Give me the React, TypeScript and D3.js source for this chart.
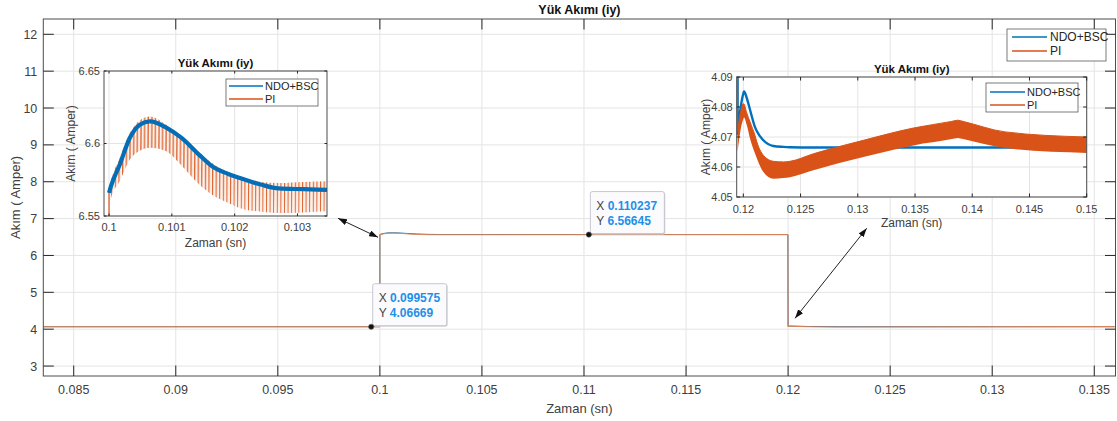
import React from 'react';
import * as d3 from 'd3';

const W = 1117;
const H = 421;
const FONT = "'Liberation Sans', Arial, Helvetica, sans-serif";
const BLUE = '#0072BD';
const ORANGE = '#D95319';
const INK = '#262626';
const GRID = '#e4e4e4';

const seriesNames = ['NDO+BSC', 'PI'];

// main plot, Yük Akımı (iy)
const mainTime = [0.0835, 0.09999, 0.1, 0.1, 0.1002, 0.1004, 0.1006, 0.1009, 0.1013, 0.1018, 0.1024, 0.103, 0.11999, 0.12, 0.12006, 0.1203, 0.121, 0.1225, 0.13, 0.136];
const mainBSC = [4.0667, 4.0667, 4.0667, 6.57, 6.598, 6.612, 6.615, 6.611, 6.598, 6.582, 6.572, 6.568, 6.5665, 4.072, 4.085, 4.083, 4.073, 4.0667, 4.0665, 4.0665];
const mainPI = [4.0667, 4.0667, 4.0667, 6.561, 6.59, 6.603, 6.607, 6.603, 6.588, 6.572, 6.563, 6.562, 6.5665, 4.069, 4.079, 4.076, 4.066, 4.059, 4.066, 4.07];
const mainXTicks = [0.085, 0.09, 0.095, 0.1, 0.105, 0.11, 0.115, 0.12, 0.125, 0.13, 0.135];
const mainXLabels = ['0.085', '0.09', '0.095', '0.1', '0.105', '0.11', '0.115', '0.12', '0.125', '0.13', '0.135'];
const mainYTicks = [3, 4, 5, 6, 7, 8, 9, 10, 11, 12];
const mainYLabels = ['3', '4', '5', '6', '7', '8', '9', '10', '11', '12'];

// data tips
const tipX = [0.099575, 0.110237];
const tipY = [4.06669, 6.56645];
const tipXText = ['0.099575', '0.110237'];
const tipYText = ['4.06669', '6.56645'];

// arrows (main axes coordinates)
const arrowFrom = [[0.09795, 7.008], [0.12385, 6.737]];
const arrowTo = [[0.09991, 6.493], [0.12034, 4.295]];

// inset 1 (step up at 0.1); first point is the foot of the step
const zoom1Time = [0.1, 0.1, 0.10003, 0.10017, 0.10033, 0.10049, 0.10065, 0.10091, 0.10115, 0.10144, 0.10164, 0.1019, 0.10217, 0.10243, 0.1027, 0.1031, 0.10347];
const zoom1BSC = [6.54, 6.566, 6.5705, 6.5854, 6.6038, 6.613, 6.6153, 6.611, 6.604, 6.592, 6.5843, 6.579, 6.575, 6.5715, 6.569, 6.5685, 6.568];
const zoom1PIHigh = [6.54, 6.568, 6.574, 6.59, 6.607, 6.616, 6.6187, 6.613, 6.605, 6.5935, 6.5865, 6.58, 6.575, 6.5735, 6.5728, 6.5735, 6.574];
const zoom1PILow = [6.54, 6.55, 6.562, 6.574, 6.5888, 6.595, 6.597, 6.5946, 6.585, 6.5716, 6.5647, 6.559, 6.5543, 6.553, 6.5521, 6.5525, 6.5532];
const zoom1XTicks = [0.1, 0.101, 0.102, 0.103];
const zoom1XLabels = ['0.1', '0.101', '0.102', '0.103'];
const zoom1YTicks = [6.55, 6.6, 6.65];
const zoom1YLabels = ['6.55', '6.6', '6.65'];

// inset 2 (step down at 0.12); first point is the top of the step
const zoom2Time = [0.11948, 0.1195, 0.1197, 0.12, 0.12006, 0.1203, 0.12059, 0.12102, 0.12117, 0.12175, 0.12262, 0.1235, 0.12408, 0.12612, 0.13049, 0.13486, 0.1382, 0.13874, 0.1392, 0.14287, 0.15];
const zoom2BSC = [6.5665, 4.071, 4.078, 4.0845, 4.0852, 4.083, 4.079, 4.0733, 4.072, 4.0689, 4.067, 4.0667, 4.0666, 4.0665, 4.0665, 4.0665, 4.0665, 4.0665, 4.0665, 4.0665, 4.0665];
const zoom2PIHigh = [6.5665, 4.072, 4.077, 4.0811, 4.081, 4.078, 4.075, 4.0705, 4.0685, 4.0639, 4.0619, 4.0617, 4.0619, 4.0644, 4.0689, 4.073, 4.0752, 4.0756, 4.0752, 4.0717, 4.07];
const zoom2PILow = [6.5665, 4.065, 4.071, 4.076, 4.0765, 4.074, 4.0694, 4.0645, 4.063, 4.0583, 4.0561, 4.0563, 4.0566, 4.0589, 4.0633, 4.0672, 4.0693, 4.0697, 4.0693, 4.0663, 4.0647];
const zoom2XTicks = [0.12, 0.125, 0.13, 0.135, 0.14, 0.145, 0.15];
const zoom2XLabels = ['0.12', '0.125', '0.13', '0.135', '0.14', '0.145', '0.15'];
const zoom2YTicks = [4.05, 4.06, 4.07, 4.08, 4.09];
const zoom2YLabels = ['4.05', '4.06', '4.07', '4.08', '4.09'];

type Box = [number, number, number, number];
type Scale = d3.ScaleLinear<number, number>;

type LegendSpec = { box: Box; x0: number; x1: number; tx: number; rows: number[]; font: number };

type PanelProps = {
  id: string;
  box: Box;
  xDomain: [number, number];
  yDomain: [number, number];
  xTicks: number[];
  xLabels: string[];
  yTicks: number[];
  yLabels: string[];
  font: number;
  labelFont: number;
  titleFont: number;
  tickLen: number;
  xTickBase: number;
  yTickGap: number;
  xLabelBase: number;
  yLabelBase: number;
  titleBase: number;
  legend: LegendSpec;
  plot: (x: Scale, y: Scale) => React.ReactNode;
  overlay?: (x: Scale, y: Scale) => React.ReactNode;
};

const lineOf = (x: Scale, y: Scale, t: number[], v: number[], curve: d3.CurveFactory = d3.curveLinear) =>
  d3.line<number>().curve(curve).x((_, i) => x(t[i])).y((d) => y(d))(v) || '';

const bandOf = (x: Scale, y: Scale, t: number[], lo: number[], hi: number[]) =>
  d3.area<number>().curve(d3.curveMonotoneX).x((_, i) => x(t[i])).y0((d) => y(d)).y1((_, i) => y(hi[i]))(lo) || '';

// step segment + smooth remainder
const stepThen = (x: Scale, y: Scale, t: number[], v: number[]) =>
  `M${x(t[0])},${y(v[0])}L${x(t[1])},${y(v[1])}` + lineOf(x, y, t.slice(1), v.slice(1), d3.curveMonotoneX).replace(/^M/, 'L');

function Legend({ spec }: { spec: LegendSpec }) {
  const [l, t, r, b] = spec.box;
  const colors = [BLUE, ORANGE];
  return (
    <g>
      <rect x={l} y={t} width={r - l} height={b - t} fill="#fff" stroke="#5a5a5a" strokeWidth={0.8} />
      {seriesNames.map((name, i) => (
        <g key={name}>
          <line x1={spec.x0} x2={spec.x1} y1={spec.rows[i]} y2={spec.rows[i]} stroke={colors[i]} strokeWidth={1.4} />
          <text x={spec.tx} y={spec.rows[i]} dy="0.36em" fontSize={spec.font} fill={INK}>{name}</text>
        </g>
      ))}
    </g>
  );
}

function Panel(p: PanelProps) {
  const [l, t, r, b] = p.box;
  const x = d3.scaleLinear().domain(p.xDomain).range([l, r]);
  const y = d3.scaleLinear().domain(p.yDomain).range([b, t]);
  const cx = (l + r) / 2;
  const cy = (t + b) / 2;
  return (
    <g fontFamily={FONT}>
      <rect x={l} y={t} width={r - l} height={b - t} fill="#fff" />
      <g stroke={GRID} strokeWidth={1}>
        {p.xTicks.map((v) => <line key={'gx' + v} x1={x(v)} x2={x(v)} y1={t} y2={b} />)}
        {p.yTicks.map((v) => <line key={'gy' + v} x1={l} x2={r} y1={y(v)} y2={y(v)} />)}
      </g>
      <clipPath id={p.id + '-clip'}>
        <rect x={l} y={t} width={r - l} height={b - t} />
      </clipPath>
      <g clipPath={`url(#${p.id}-clip)`}>{p.plot(x, y)}</g>
      <rect x={l} y={t} width={r - l} height={b - t} fill="none" stroke="#4d4d4d" strokeWidth={1} />
      <g stroke={INK} strokeWidth={1}>
        {p.xTicks.map((v) => (
          <g key={'tx' + v}>
            <line x1={x(v)} x2={x(v)} y1={b} y2={b - p.tickLen} />
            <line x1={x(v)} x2={x(v)} y1={t} y2={t + p.tickLen} />
          </g>
        ))}
        {p.yTicks.map((v) => (
          <g key={'ty' + v}>
            <line x1={l} x2={l + p.tickLen} y1={y(v)} y2={y(v)} />
            <line x1={r} x2={r - p.tickLen} y1={y(v)} y2={y(v)} />
          </g>
        ))}
      </g>
      <g fontSize={p.font} fill="#404040">
        {p.xTicks.map((v, i) => (
          <text key={'lx' + v} x={x(v)} y={p.xTickBase} textAnchor="middle">{p.xLabels[i]}</text>
        ))}
        {p.yTicks.map((v, i) => (
          <text key={'ly' + v} x={l - p.yTickGap} y={y(v)} dy="0.36em" textAnchor="end">{p.yLabels[i]}</text>
        ))}
      </g>
      <text x={cx} y={p.titleBase} textAnchor="middle" fontSize={p.titleFont} fontWeight="bold" fill="#111">Yük Akımı (iy)</text>
      <text x={cx} y={p.xLabelBase} textAnchor="middle" fontSize={p.labelFont} fill="#404040">Zaman (sn)</text>
      <text transform={`translate(${p.yLabelBase},${cy}) rotate(-90)`} textAnchor="middle" fontSize={p.labelFont} fill="#404040">Akım ( Amper)</text>
      <Legend spec={p.legend} />
      {p.overlay ? p.overlay(x, y) : null}
    </g>
  );
}

function DataTip({ px, py, xs, ys }: { px: number; py: number; xs: string; ys: string }) {
  const bx = px + 1.5;
  const by = py - 43;
  return (
    <g fontFamily={FONT} fontSize={12}>
      <rect x={bx + 1} y={by + 1} width={74} height={42} rx={2} fill="#d8d8de" />
      <rect x={bx} y={by} width={74} height={42} rx={2} fill="#fbfbfe" stroke="#b9b9c6" strokeWidth={0.8} />
      <text x={bx + 6} y={by + 18}>
        <tspan fill="#444">X </tspan>
        <tspan fill="#1e90e8" fontWeight="bold">{xs}</tspan>
      </text>
      <text x={bx + 6} y={by + 33}>
        <tspan fill="#444">Y </tspan>
        <tspan fill="#1e90e8" fontWeight="bold">{ys}</tspan>
      </text>
      <circle cx={px} cy={py} r={2.6} fill="#111" stroke="#555" strokeWidth={0.6} />
    </g>
  );
}

export default function App() {
  return (
    <div style={{ position: 'absolute', left: 0, top: 0 }}>
      <svg width={W} height={H} style={{ display: 'block', background: '#fff' }}>
        <defs>
          <marker id="head" viewBox="0 0 10 7" refX={10} refY={3.5} markerWidth={9} markerHeight={6.5}
            markerUnits="userSpaceOnUse" orient="auto-start-reverse">
            <path d="M0,0L10,3.5L0,7z" fill="#111" />
          </marker>
          <pattern id="teeth" patternUnits="userSpaceOnUse" x={104} y={71} width={3.6} height={145}>
            <rect x={0} y={0} width={3.6} height={145} fill="#fdf0ea" />
            <line x1={0.2} x2={1.6} y1={145} y2={0} stroke={ORANGE} strokeWidth={1.3} strokeOpacity={0.9} />
          </pattern>
        </defs>

        <Panel
          id="main"
          box={[43.3, 19, 1115.5, 376]}
          xDomain={[0.08351, 0.13604]}
          yDomain={[2.73, 12.415]}
          xTicks={mainXTicks}
          xLabels={mainXLabels}
          yTicks={mainYTicks}
          yLabels={mainYLabels}
          font={12.5}
          labelFont={13}
          titleFont={12.5}
          tickLen={10.5}
          xTickBase={394}
          yTickGap={6}
          xLabelBase={412.5}
          yLabelBase={20}
          titleBase={14}
          legend={{ box: [1007, 29, 1106, 61], x0: 1012, x1: 1047, tx: 1050, rows: [37, 51], font: 12 }}
          plot={(x, y) => (
            <g fill="none">
              <path d={lineOf(x, y, mainTime, mainBSC)} stroke={BLUE} strokeWidth={1} />
              <path d={lineOf(x, y, mainTime, mainPI)} stroke="#e4834f" strokeWidth={1} />
            </g>
          )}
          overlay={(x, y) => (
            <g>
              {tipX.map((tx, i) => (
                <DataTip key={'tip' + i} px={x(tx)} py={y(tipY[i])} xs={tipXText[i]} ys={tipYText[i]} />
              ))}
              {arrowFrom.map((a, i) => (
                <line key={'ar' + i} x1={x(a[0])} y1={y(a[1])} x2={x(arrowTo[i][0])} y2={y(arrowTo[i][1])}
                  stroke="#222" strokeWidth={1} markerStart="url(#head)" markerEnd="url(#head)" />
              ))}
            </g>
          )}
        />

        <Panel
          id="zoom1"
          box={[104, 71, 327, 216]}
          xDomain={[0.09992, 0.10347]}
          yDomain={[6.55, 6.65]}
          xTicks={zoom1XTicks}
          xLabels={zoom1XLabels}
          yTicks={zoom1YTicks}
          yLabels={zoom1YLabels}
          font={11}
          labelFont={12}
          titleFont={11.5}
          tickLen={2.5}
          xTickBase={231}
          yTickGap={4}
          xLabelBase={247}
          yLabelBase={75}
          titleBase={67}
          legend={{ box: [226, 79, 318, 106], x0: 229, x1: 263, tx: 265, rows: [86, 99], font: 11 }}
          plot={(x, y) => (
            <g>
              <path d={bandOf(x, y, zoom1Time.slice(1), zoom1PILow.slice(1), zoom1PIHigh.slice(1))} fill="url(#teeth)" />
              <line x1={x(zoom1Time[0])} x2={x(zoom1Time[1])} y1={y(zoom1PILow[0])} y2={y(zoom1PIHigh[1])}
                stroke={ORANGE} strokeWidth={1.2} />
              <path d={lineOf(x, y, zoom1Time.slice(1), zoom1BSC.slice(1), d3.curveMonotoneX)} fill="none" stroke={BLUE} strokeWidth={4.2} />
              <path d={lineOf(x, y, zoom1Time.slice(1), zoom1BSC.slice(1), d3.curveMonotoneX)} fill="none" stroke="#1d5a94" strokeWidth={3}
                strokeDasharray="1.2 2.4" strokeOpacity={0.5} />
            </g>
          )}
        />

        <Panel
          id="zoom2"
          box={[736.7, 77, 1086.7, 197]}
          xDomain={[0.11942, 0.15]}
          yDomain={[4.05, 4.09]}
          xTicks={zoom2XTicks}
          xLabels={zoom2XLabels}
          yTicks={zoom2YTicks}
          yLabels={zoom2YLabels}
          font={11}
          labelFont={12}
          titleFont={11.5}
          tickLen={3.5}
          xTickBase={212.5}
          yTickGap={4}
          xLabelBase={226.5}
          yLabelBase={709.5}
          titleBase={73}
          legend={{ box: [986, 83, 1078, 112], x0: 990, x1: 1025, tx: 1027, rows: [92, 105], font: 11 }}
          plot={(x, y) => (
            <g>
              <path d={stepThen(x, y, zoom2Time, zoom2BSC)} fill="none" stroke={BLUE} strokeWidth={2.4} />
              <path d={bandOf(x, y, zoom2Time.slice(1), zoom2PILow.slice(1), zoom2PIHigh.slice(1))} fill={ORANGE} />
              <path d={stepThen(x, y, zoom2Time, zoom2PIHigh)} fill="none" stroke={ORANGE} strokeWidth={1} />
            </g>
          )}
        />
      </svg>
    </div>
  );
}
